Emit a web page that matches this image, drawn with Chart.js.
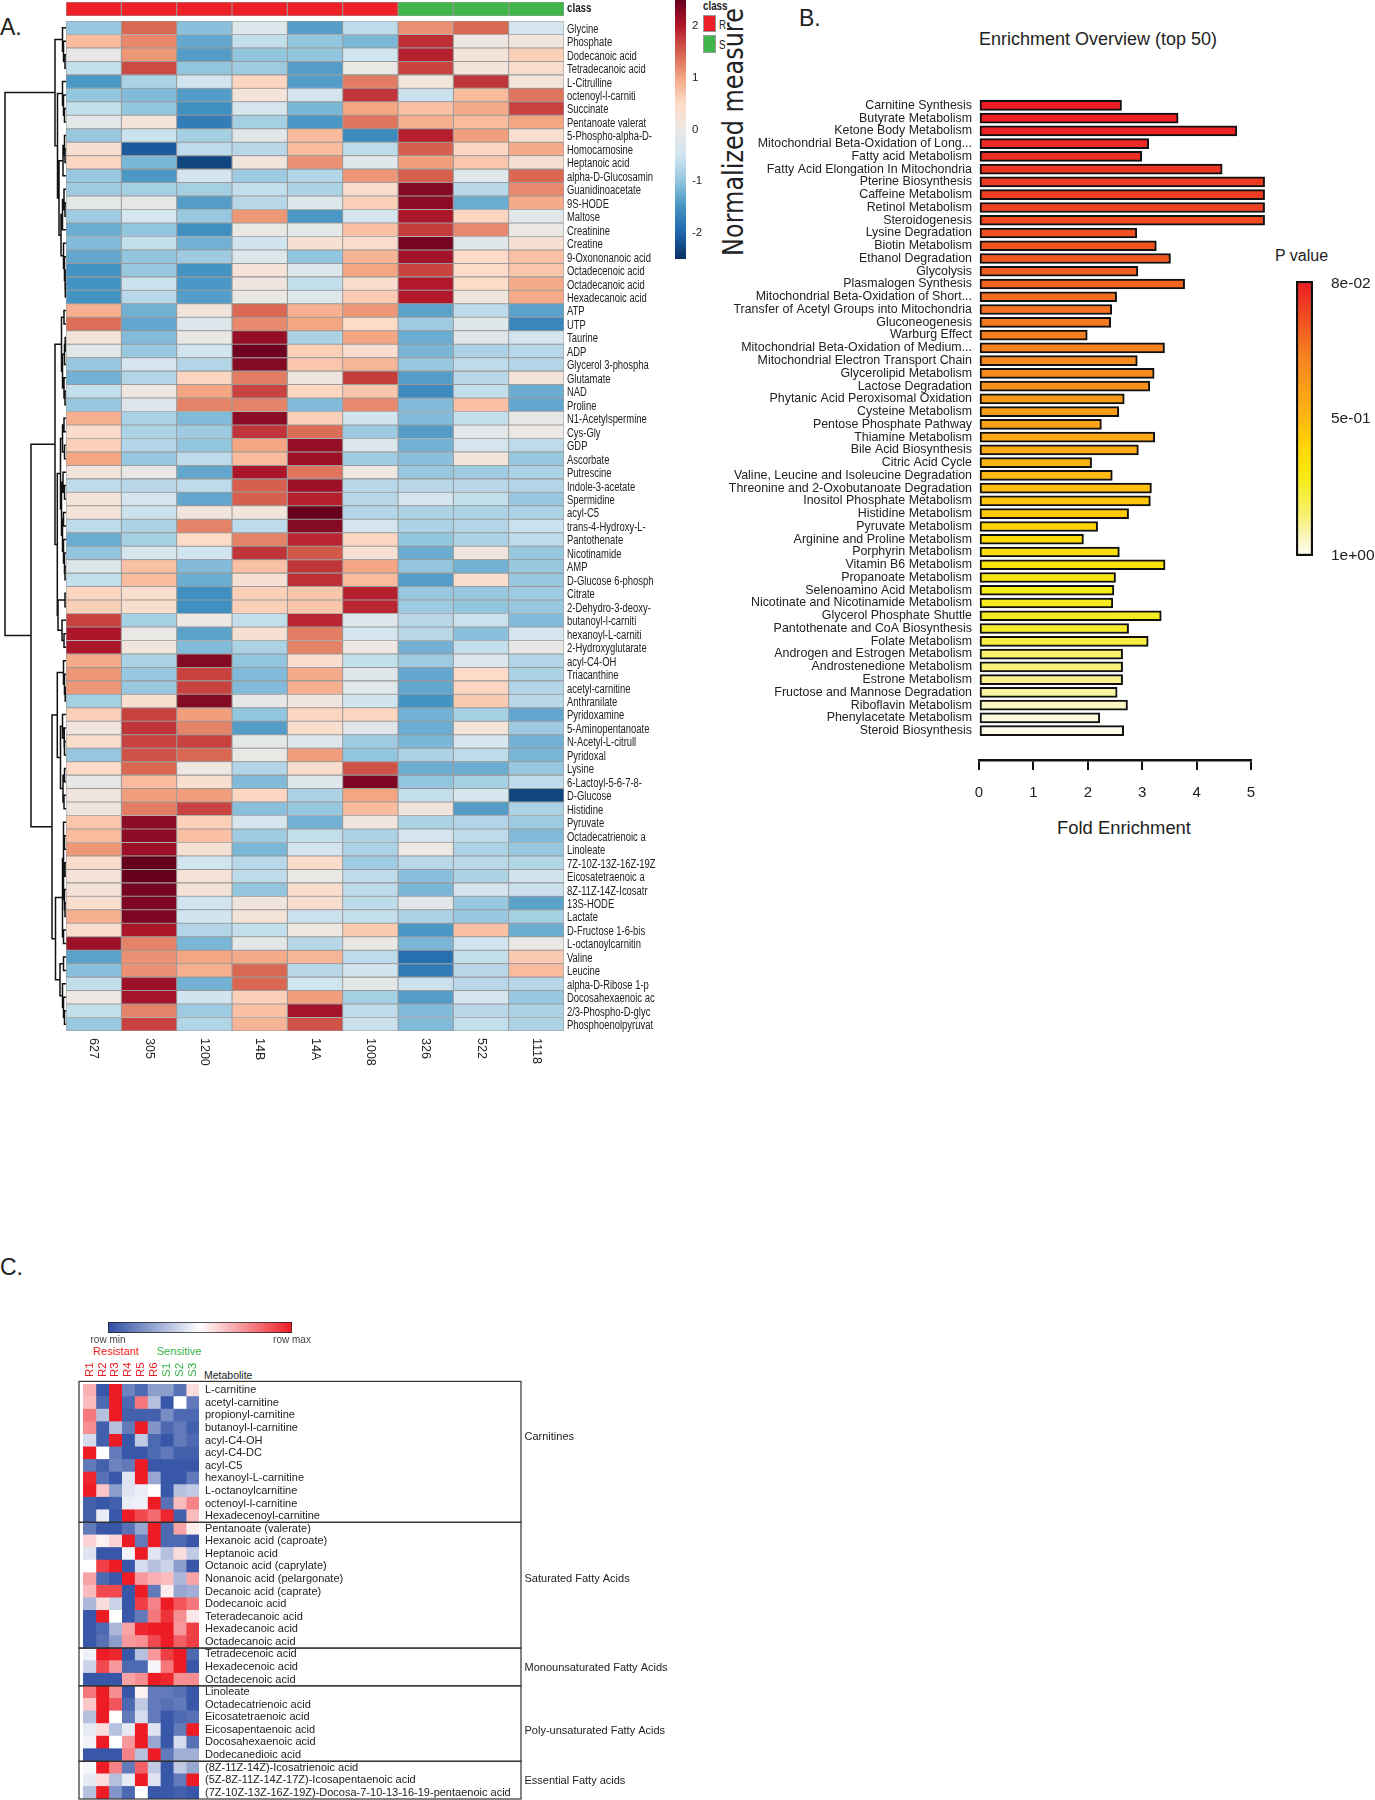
<!DOCTYPE html>
<html lang="en">
<head>
<meta charset="UTF-8">
<title>Metabolomics heatmaps and enrichment overview</title>
<script src="https://cdn.jsdelivr.net/npm/chart.js"></script>
<style>
    body { margin: 0; background: #fff; width: 1375px; height: 1800px; position: relative; overflow: hidden; font-family: "Liberation Sans", Arial, sans-serif; color: #222; }
    canvas { position: absolute; }
    .txt { position: absolute; white-space: nowrap; line-height: 1; transform: translate(0, -50%); }
    .mid { transform: translate(-50%, -50%); }
    .narrow { transform: translate(0, -50%) scaleX(0.78); transform-origin: left center; }
    .swatch { position: absolute; left: 703px; width: 11px; border: 1.5px solid #999; }
</style>
</head>
<body>
<div class="txt" style="left:0;top:27px;font-size:23px">A.</div>
<div class="txt" style="left:799px;top:18px;font-size:23px">B.</div>
<div class="txt" style="left:0;top:1267px;font-size:23px">C.</div>

<div class="txt narrow" style="left:703px;top:6px;font-size:12.5px;font-weight:bold">class</div>
<div class="swatch" style="top:15px;height:15px;background:#ee1f26"></div>
<div class="swatch" style="top:35px;height:16px;background:#3fb54a"></div>
<div class="txt narrow" style="left:719px;top:25px;font-size:12.5px">R</div>
<div class="txt narrow" style="left:719px;top:45px;font-size:12.5px">S</div>
<div class="txt mid" style="left:734px;top:132px;font-size:28px;font-family:'DejaVu Sans';transform:translate(-50%,-50%) rotate(-90deg) scaleX(0.855)">Normalized measure</div>

<div class="txt mid" style="left:1098px;top:39px;font-size:18px">Enrichment Overview (top 50)</div>
<div class="txt mid" style="left:1124px;top:828px;font-size:18.4px">Fold Enrichment</div>
<div class="txt" style="left:1275px;top:256px;font-size:16px">P value</div>

<div class="txt mid" style="left:116px;top:1351px;font-size:11px;color:#ed1c24">Resistant</div>
<div class="txt mid" style="left:179px;top:1351px;font-size:11px;color:#39b54a">Sensitive</div>
<div class="txt" style="left:204px;top:1375px;font-size:10.5px">Metabolite</div>

<canvas id="classStrip" width="700" height="20" style="left:64px;top:0"></canvas>
<canvas id="dendro" width="66" height="1010" style="left:0;top:21px"></canvas>
<canvas id="heatA" width="700" height="1080" style="left:64px;top:19px"></canvas>
<canvas id="heatLegend" width="40" height="259" style="left:670px;top:0"></canvas>
<canvas id="enrich" width="560" height="755" style="left:720px;top:90px"></canvas>
<canvas id="pLegend" width="81" height="290" style="left:1294px;top:275px"></canvas>
<canvas id="rowLegend" width="240" height="32" style="left:80px;top:1316px"></canvas>
<canvas id="heatC" width="610" height="445" style="left:70px;top:1355px"></canvas>

<script>
// Panel A: samples, class of each sample, metabolites and normalized values
const samples = ['627', '305', '1200', '14B', '14A', '1008', '326', '522', '1118'];
const sampleClass = ['R', 'R', 'R', 'R', 'R', 'R', 'S', 'S', 'S'];
const metabolites = ['Glycine', 'Phosphate', 'Dodecanoic acid', 'Tetradecanoic acid', 'L-Citrulline', 'octenoyl-l-carniti', 'Succinate', 'Pentanoate valerat', '5-Phospho-alpha-D-', 'Homocarnosine', 'Heptanoic acid', 'alpha-D-Glucosamin', 'Guanidinoacetate', '9S-HODE', 'Maltose', 'Creatinine', 'Creatine', '9-Oxononanoic acid', 'Octadecenoic acid', 'Octadecanoic acid', 'Hexadecanoic acid', 'ATP', 'UTP', 'Taurine', 'ADP', 'Glycerol 3-phospha', 'Glutamate', 'NAD', 'Proline', 'N1-Acetylspermine', 'Cys-Gly', 'GDP', 'Ascorbate', 'Putrescine', 'Indole-3-acetate', 'Spermidine', 'acyl-C5', 'trans-4-Hydroxy-L-', 'Pantothenate', 'Nicotinamide', 'AMP', 'D-Glucose 6-phosph', 'Citrate', '2-Dehydro-3-deoxy-', 'butanoyl-l-carniti', 'hexanoyl-L-carniti', '2-Hydroxyglutarate', 'acyl-C4-OH', 'Triacanthine', 'acetyl-carnitine', 'Anthranilate', 'Pyridoxamine', '5-Aminopentanoate', 'N-Acetyl-L-citrull', 'Pyridoxal', 'Lysine', '6-Lactoyl-5-6-7-8-', 'D-Glucose', 'Histidine', 'Pyruvate', 'Octadecatrienoic a', 'Linoleate', '7Z-10Z-13Z-16Z-19Z', 'Eicosatetraenoic a', '8Z-11Z-14Z-Icosatr', '13S-HODE', 'Lactate', 'D-Fructose 1-6-bis', 'L-octanoylcarnitin', 'Valine', 'Leucine', 'alpha-D-Ribose 1-p', 'Docosahexaenoic ac', '2/3-Phospho-D-glyc', 'Phosphoenolpyruvat'];
const heatValues = [
    [-0.95, 1.45, -1.05, -0.3, -1.4, -0.65, 1.15, 1.45, -0.45],
    [0.8, 1.2, -1.3, -0.6, -1.0, -1.15, 1.85, 0.05, 0.15],
    [-0.1, 1.1, -1.4, -1.0, -1.0, -0.5, 1.95, 0.2, 0.6],
    [-0.6, 1.65, -1.0, -0.9, -1.4, -0.05, 1.7, 0.2, 0.4],
    [-1.45, -0.8, -0.5, 0.55, -1.4, 1.3, 0.15, 1.8, 0.2],
    [-1.0, -1.1, -1.4, 0.2, -0.45, 1.8, -0.55, 0.8, 1.35],
    [-0.6, -1.0, -1.55, -0.4, -1.15, 1.0, 0.75, 0.95, 1.7],
    [-0.15, 0.2, -1.75, -0.85, -1.45, 1.35, 0.9, 0.8, 1.0],
    [-0.95, -0.55, -0.85, -0.2, 0.8, -1.6, 1.95, 1.05, 0.35],
    [0.3, -2.1, -0.65, -0.7, 0.8, -0.65, 1.5, 0.55, 0.95],
    [0.55, -1.15, -2.3, 0.15, 1.15, -0.25, 1.05, 0.7, 0.3],
    [-0.95, -1.45, -0.45, -0.9, -0.75, 1.1, 1.5, -0.25, 1.45],
    [-0.9, -0.85, -0.85, -0.6, -0.8, 0.4, 2.3, -0.7, 1.2],
    [-0.15, -0.1, -1.4, -0.7, -0.3, 0.6, 2.25, -1.25, 0.95],
    [-0.9, -0.4, -0.95, 1.1, -1.45, -0.45, 2.05, 0.55, -0.2],
    [-1.25, -1.0, -1.55, -0.05, -0.15, 0.75, 1.75, 1.2, 0.0],
    [-1.1, -0.6, -1.2, -0.5, 0.3, 0.45, 2.4, -0.25, 0.3],
    [-1.3, -1.0, -0.9, -0.3, -1.0, 0.85, 2.1, 0.5, 0.75],
    [-1.5, -0.95, -1.5, 0.25, -0.3, 1.0, 1.7, 0.5, 0.7],
    [-1.5, -0.55, -1.45, 0.1, -0.6, 0.4, 2.0, 0.5, 0.95],
    [-1.5, -0.7, -1.4, -0.05, -0.3, 0.65, 2.0, 0.15, 0.95],
    [0.9, -1.2, 0.15, 1.45, 0.9, 1.1, -1.35, -0.65, -1.35],
    [1.4, -1.3, -0.3, 1.2, 1.0, 0.5, -0.9, -0.25, -1.65],
    [0.2, -1.1, -0.05, 2.2, -0.8, 1.0, -1.25, -0.25, -0.45],
    [-0.2, -0.95, -0.5, 2.45, 0.6, 0.4, -1.15, -0.8, -0.7],
    [-0.95, -0.45, -0.75, 2.3, 0.7, 0.85, -0.95, -0.65, -0.75],
    [-1.2, -0.75, 0.55, 1.3, 0.1, 1.75, -1.4, -0.7, 0.2],
    [-0.6, 0.05, 1.0, 1.7, 0.55, 0.7, -1.6, -0.6, -1.25],
    [-0.95, -0.3, 1.25, 1.25, -1.1, 1.2, -1.1, 0.75, -1.3],
    [0.9, -0.8, -1.1, 2.25, 0.6, -0.5, -1.1, -0.6, -0.1],
    [0.45, -0.8, -0.9, 1.8, 1.4, -0.9, -1.4, -0.15, 0.0],
    [0.6, -0.75, -1.0, 1.0, 2.2, -0.3, -1.2, -0.45, -0.65],
    [1.0, -0.95, -0.65, 0.8, 2.15, -0.9, -1.05, 0.15, -0.95],
    [0.15, -0.1, -1.3, 2.05, 1.35, 0.05, -0.95, -0.9, -0.8],
    [-0.65, -0.7, -0.65, 1.5, 2.15, -0.7, -0.7, -0.7, -0.75],
    [0.2, -0.45, -1.3, 1.5, 1.95, -0.7, -0.45, -0.6, -0.95],
    [0.2, -0.55, 0.1, 0.15, 2.55, -0.75, -0.8, -0.8, -0.8],
    [-0.65, -0.8, 1.25, -0.65, 2.3, -0.45, -0.8, -0.75, -0.55],
    [-1.25, -0.85, 0.5, 1.25, 1.9, 0.55, -1.0, -0.8, -0.65],
    [-1.0, -0.4, -0.5, 1.8, 1.55, 0.3, -1.25, 0.1, -0.95],
    [-0.3, 0.75, -1.1, 0.75, 1.8, 1.0, -1.0, -1.2, -0.95],
    [-0.6, 0.8, -1.25, 0.3, 1.85, 0.8, -1.4, 0.4, -0.95],
    [0.55, 0.4, -1.55, 0.6, 0.7, 1.95, -0.95, -0.95, -0.9],
    [0.6, 0.4, -1.55, 0.6, 0.7, 1.9, -0.9, -1.0, -0.95],
    [1.7, -0.85, 0.0, -0.6, 1.9, -0.3, -0.7, -0.55, -1.1],
    [2.05, -0.05, -1.35, 0.3, 1.3, -0.4, -0.7, -1.05, -0.45],
    [2.05, 0.15, -1.1, -0.8, 1.25, 0.05, -1.2, -0.6, -0.1],
    [0.95, -0.8, 2.3, -1.0, 0.4, -0.6, -0.9, -0.3, -0.75],
    [1.1, -0.95, 1.7, -1.1, 0.95, -0.25, -1.3, 0.5, -0.8],
    [1.1, -0.95, 1.7, -1.1, 0.9, -0.25, -1.3, 0.55, -0.75],
    [-0.85, 0.35, 2.3, -0.1, 0.1, -0.5, -1.5, 0.65, -0.7],
    [0.6, 1.7, 1.05, -1.0, 0.55, 0.55, -1.2, -0.85, -1.3],
    [0.1, 1.8, 1.25, -1.4, 0.4, -0.25, -1.25, 0.2, -0.9],
    [0.45, 1.7, 1.7, -0.15, -0.3, -0.9, -1.15, -0.4, -1.2],
    [-0.95, 1.6, 1.45, -0.05, 1.05, -1.0, -0.8, -0.65, -1.15],
    [0.5, 1.45, 0.05, -0.75, 0.4, 1.6, -1.25, -1.25, -0.95],
    [-0.1, 0.8, 0.35, -1.1, -0.25, 2.35, -1.0, -0.85, -0.65],
    [0.1, 1.05, 1.05, 0.55, -0.8, 1.0, -0.6, -0.4, -2.3],
    [0.1, 1.3, 1.7, -1.05, -0.95, 0.8, 0.15, -1.4, -0.8],
    [0.7, 2.25, 0.6, -0.4, -1.2, 0.1, -0.8, -0.75, -0.9],
    [0.8, 2.25, 0.75, -0.9, -0.6, -0.8, -0.45, -0.65, -1.1],
    [1.1, 2.15, 0.3, -1.15, -0.45, -0.8, 0.0, -0.8, -0.95],
    [0.45, 2.5, -0.5, -0.7, 0.45, -0.9, -0.7, -0.7, -0.75],
    [0.25, 2.55, 0.25, -0.65, -0.05, -0.65, -1.05, -0.8, -0.5],
    [0.25, 2.4, 0.25, -1.0, 0.4, -0.65, -1.15, -0.45, -0.55],
    [0.4, 2.35, -0.5, 0.15, 0.4, -0.65, -0.2, -0.95, -1.35],
    [0.9, 2.35, -0.5, 0.2, -0.55, -0.6, -0.8, -0.95, -0.85],
    [0.4, 2.05, -0.75, -0.6, 0.05, 0.65, -1.45, 0.75, -1.25],
    [2.15, 1.25, -1.15, -0.15, -0.7, -0.05, -1.15, -0.5, -0.05],
    [-1.35, 1.15, 1.0, 0.95, 0.85, -0.65, -1.9, -0.6, 0.65],
    [-1.05, 1.15, 0.9, 1.45, -0.7, -0.5, -1.75, -0.7, 0.8],
    [-0.6, 2.15, -1.2, 1.45, -0.5, -0.15, -0.55, -0.7, -0.7],
    [0.0, 2.1, -0.5, 0.6, 1.05, -0.85, -1.4, -0.45, -0.95],
    [-0.6, 1.25, -0.9, 0.75, 2.1, -0.65, -1.1, -0.7, -0.8],
    [-0.95, 1.7, -0.75, 0.85, 1.6, -0.55, -1.1, -0.6, -0.8]
];

// Row dendrogram of panel A: [distance, child, child], a plain number is a row index
const treeA = [11, [3.5, 0, [2.5, 1, [1, 2, 3]]],
    [8.5, [3.5, 4, [2.5, 5, [1.5, 6, 7]]],
        [7, [3, [1.5, 8, [1, 9, 10]], 11],
            [5, [3.5, [2, 12, [1, 13, 14]], 15], [2.5, 16, [1.5, 17, [1, 18, [0.7, 19, 20]]]]]]]];
const treeB = [4.5, [2, 21, 22], [3.5, [1.5, [0.8, 23, 24], 25], [2, 26, [1, 27, 28]]]];
const treeC = [5.5, [3.5, [2, 29, 30], [1.5, 31, 32]],
    [4.5, [3, 33, [1.5, 34, 35]], [3.5, [2.5, 36, 37], [2.5, 38, [1.5, 39, [1, 40, 41]]]]]];
const treeD = [8, [1, 42, 43], [4, 44, [2, 45, 46]]];
const treeE = [8.7, [2.5, 47, [1.5, 48, [0.8, 49, 50]]],
    [5.5, [3.5, 51, [2, 52, [1.5, 53, 54]]], [3, [1.5, 55, 56], [2, 57, 58]]]];
const treeF = [10.5, [3.5, [2.5, [2.5, 59, [1.5, 60, 61]], [2.5, [1, 62, 63], [1.5, 64, [1, 65, 66]]]], [2.5, 67, 68]],
    [6, [2.5, 69, 70], [3.5, 71, [2.5, 72, [1.5, 73, 74]]]]];
const dendroRoot = [61, treeA, [35, [11, treeB, [8.7, treeC, treeD]], [14, treeE, treeF]]];

// Panel B: pathways, fold enrichment and P value
const pathways = ['Carnitine Synthesis', 'Butyrate Metabolism', 'Ketone Body Metabolism', 'Mitochondrial Beta-Oxidation of Long...', 'Fatty acid Metabolism', 'Fatty Acid Elongation In Mitochondria', 'Pterine Biosynthesis', 'Caffeine Metabolism', 'Retinol Metabolism', 'Steroidogenesis', 'Lysine Degradation', 'Biotin Metabolism', 'Ethanol Degradation', 'Glycolysis', 'Plasmalogen Synthesis', 'Mitochondrial Beta-Oxidation of Short...', 'Transfer of Acetyl Groups into Mitochondria', 'Gluconeogenesis', 'Warburg Effect', 'Mitochondrial Beta-Oxidation of Medium...', 'Mitochondrial Electron Transport Chain', 'Glycerolipid Metabolism', 'Lactose Degradation', 'Phytanic Acid Peroxisomal Oxidation', 'Cysteine Metabolism', 'Pentose Phosphate Pathway', 'Thiamine Metabolism', 'Bile Acid Biosynthesis', 'Citric Acid Cycle', 'Valine, Leucine and Isoleucine Degradation', 'Threonine and 2-Oxobutanoate Degradation', 'Inositol Phosphate Metabolism', 'Histidine Metabolism', 'Pyruvate Metabolism', 'Arginine and Proline Metabolism', 'Porphyrin Metabolism', 'Vitamin B6 Metabolism', 'Propanoate Metabolism', 'Selenoamino Acid Metabolism', 'Nicotinate and Nicotinamide Metabolism', 'Glycerol Phosphate Shuttle', 'Pantothenate and CoA Biosynthesis', 'Folate Metabolism', 'Androgen and Estrogen Metabolism', 'Androstenedione Metabolism', 'Estrone Metabolism', 'Fructose and Mannose Degradation', 'Riboflavin Metabolism', 'Phenylacetate Metabolism', 'Steroid Biosynthesis'];
const foldEnrichment = [2.62, 3.66, 4.74, 3.12, 2.99, 4.47, 5.25, 5.25, 5.25, 5.25, 2.90, 3.26, 3.52, 2.92, 3.78, 2.53, 2.44, 2.42, 1.99, 3.41, 2.91, 3.22, 3.14, 2.67, 2.57, 2.25, 3.23, 2.93, 2.07, 2.45, 3.17, 3.15, 2.75, 2.18, 1.92, 2.58, 3.42, 2.51, 2.48, 2.46, 3.35, 2.75, 3.11, 2.64, 2.64, 2.64, 2.54, 2.73, 2.22, 2.66];
const pValues = [0.08, 0.09, 0.10, 0.11, 0.12, 0.14, 0.15, 0.16, 0.17, 0.19, 0.21, 0.22, 0.23, 0.24, 0.26, 0.28, 0.29, 0.31, 0.32, 0.33, 0.36, 0.37, 0.39, 0.42, 0.44, 0.46, 0.48, 0.49, 0.52, 0.54, 0.56, 0.58, 0.60, 0.63, 0.66, 0.68, 0.70, 0.72, 0.735, 0.745, 0.755, 0.77, 0.80, 0.86, 0.87, 0.89, 0.91, 0.94, 0.97, 0.99];
const foldTicks = [0, 1, 2, 3, 4, 5];
const pTicks = [0.09, 0.54, 1];
const pTickLabels = ['8e-02', '5e-01', '1e+00'];

// Panel C: columns, metabolite groups and row-scaled values (-1 row min, 1 row max)
const columnsC = ['R1', 'R2', 'R3', 'R4', 'R5', 'R6', 'S1', 'S2', 'S3'];
const metabolitesC = ['L-carnitine', 'acetyl-carnitine', 'propionyl-carnitine', 'butanoyl-l-carnitine', 'acyl-C4-OH', 'acyl-C4-DC', 'acyl-C5', 'hexanoyl-L-carnitine', 'L-octanoylcarnitine', 'octenoyl-l-carnitine', 'Hexadecenoyl-carnitine', 'Pentanoate (valerate)', 'Hexanoic acid (caproate)', 'Heptanoic acid', 'Octanoic acid (caprylate)', 'Nonanoic acid (pelargonate)', 'Decanoic acid (caprate)', 'Dodecanoic acid', 'Teteradecanoic acid', 'Hexadecanoic acid', 'Octadecanoic acid', 'Tetradecenoic acid', 'Hexadecenoic acid', 'Octadecenoic acid', 'Linoleate', 'Octadecatrienoic acid', 'Eicosatetraenoic acid', 'Eicosapentaenoic acid', 'Docosahexaenoic acid', 'Dodecanedioic acid', '(8Z-11Z-14Z)-Icosatrienoic acid', '(5Z-8Z-11Z-14Z-17Z)-Icosapentaenoic acid', '(7Z-10Z-13Z-16Z-19Z)-Docosa-7-10-13-16-19-pentaenoic acid'];
const groupNames = ['Carnitines', 'Saturated Fatty Acids', 'Monounsaturated Fatty Acids', 'Poly-unsaturated Fatty Acids', 'Essential Fatty acids'];
const groupSizes = [11, 10, 3, 6, 3];
const groupNameRows = [3.7, 15, 22.1, 27.1, 31.05];
const valuesC = [
    [0.35, -0.95, 1, -0.7, -0.85, -0.55, -0.55, -0.8, 0.15],
    [0.3, -0.85, 1, -0.85, 0.6, -0.35, -0.95, 0, -0.75],
    [0.6, -0.35, 1, -0.9, -0.9, -0.9, -0.65, -0.85, -0.85],
    [0.5, -0.9, -0.35, -0.75, 1, -0.6, -0.85, -0.75, -0.9],
    [-0.2, -0.9, 1, -0.95, -0.3, -0.85, -0.95, -0.75, -0.85],
    [1, 0, -0.75, -0.95, -0.95, -0.85, -0.75, -0.9, -0.9],
    [-0.75, -0.9, -0.7, -0.75, 1, -0.95, -0.95, -0.95, -0.95],
    [0.95, -0.8, -0.95, -0.15, 1, -0.5, -0.95, -0.95, -0.75],
    [1, 0.25, -0.55, -0.15, -0.1, 0, -0.95, -0.35, -0.3],
    [-0.9, -0.95, -0.9, -0.1, -0.08, 1, -0.8, 0.3, 0.55],
    [-0.9, -0.1, -0.95, 1, 0.8, 0.65, 0.95, -0.9, 0.3],
    [-0.75, -0.95, -0.95, -0.8, -0.5, 1, -0.85, 0.4, 0.08],
    [0.2, 0.06, 0.2, 1, -0.75, 1, -0.85, -0.85, -0.95],
    [-0.15, -0.95, -0.95, -0.06, 1, -0.15, -0.35, 0.15, -0.3],
    [0, 0.85, 1, -0.95, -0.2, -0.35, -0.25, -0.55, -0.95],
    [0.4, -0.85, -0.95, 1, 0.45, 0.35, 0.3, -0.4, 0.4],
    [0.3, 0.8, 0.8, -0.95, 1, -0.75, 0.08, -0.5, -0.45],
    [-0.4, 0.15, -0.25, -0.95, 0.85, 0.55, 1, 0.75, 0.6],
    [-0.95, 1, 0, -0.95, -0.75, 0.6, 0.9, 0.5, 0.1],
    [-0.95, -0.85, -0.4, 0.4, 0.95, 1, 1, 0.45, 0.85],
    [-0.95, -0.8, -0.55, 0.45, 0.5, 0.8, 1, 0.7, 0.85],
    [-0.08, 1, 0.95, -0.95, -0.35, 0.45, 0.85, 1, -0.85],
    [-0.25, 0.8, 0.45, -0.85, -0.85, -0.05, 0.6, 1, -0.95],
    [-0.95, -0.95, -0.95, 0.4, 0.5, 1, 0.95, 0.5, 0.5],
    [0.6, 1, 0.5, -0.95, 0.06, -0.75, -0.75, -0.8, -0.95],
    [0.25, 1, 0.75, -0.85, -0.3, -0.75, -0.8, -0.75, -0.95],
    [-0.35, 1, 0, -0.75, -0.2, -0.75, -0.95, -0.85, -0.8],
    [-0.12, 0.15, -0.35, -0.12, 1, -0.15, -0.95, -0.75, 1],
    [-0.06, 1, 0, 0.45, 1, -0.5, -0.95, -0.2, -0.8],
    [-0.95, -0.95, -0.95, 0.55, -0.35, 1, -0.75, -0.45, -0.45],
    [-0.05, 1, 0.55, -0.75, 0.7, -0.3, -0.95, -0.3, -0.5],
    [-0.12, 0.15, -0.35, -0.12, 1, -0.15, -0.95, -0.75, 1],
    [-0.35, 1, -0.6, -0.85, 0, -0.95, -0.95, -0.9, -0.95]
];

Chart.defaults.animation = false;
Chart.defaults.responsive = false;
Chart.defaults.font.family = '"Liberation Sans", Arial, sans-serif';
Chart.defaults.color = '#222';
Chart.defaults.plugins.legend.display = false;
Chart.defaults.plugins.tooltip.enabled = false;

// Colour scales: list of [value, '#hex'] pairs, linear between them
const rdbuStops = [[-2.5, '#053061'], [-2, '#2166ac'], [-1.5, '#4393c3'], [-1, '#92c5de'], [-0.5, '#d1e5f0'], [0, '#ece8e4'], [0.5, '#fddbc7'], [1, '#f4a582'], [1.5, '#d6604d'], [2, '#b2182b'], [2.5, '#67001f']];
const pStops = [[0.08, '#ed1c24'], [0.33, '#f58220'], [0.54, '#fdb813'], [0.63, '#ffd500'], [0.735, '#f5ea14'], [0.86, '#f7f06e'], [0.94, '#fbf7c0'], [1, '#fffef5']];
const rowStops = [[-1, '#2e4ea3'], [0, '#ffffff'], [1, '#ed1c24']];

function hexToRgb(h) {
    return [1, 3, 5].map(i => parseInt(h.substr(i, 2), 16));
}
function colorAt(stops, v) {
    if (v <= stops[0][0]) return stops[0][1];
    for (let i = 1; i < stops.length; i++) {
        if (v <= stops[i][0]) {
            const t = (v - stops[i - 1][0]) / (stops[i][0] - stops[i - 1][0]);
            const a = hexToRgb(stops[i - 1][1]), b = hexToRgb(stops[i][1]);
            return `rgb(${a.map((c, k) => Math.round(c + (b[k] - c) * t)).join(',')})`;
        }
    }
    return stops[stops.length - 1][1];
}
// Fill for the colour bars, runs along the chart area
function gradientFill(stops, vertical, lo, hi) {
    return ctx => {
        const area = ctx.chart.chartArea;
        if (!area) return '#ccc';
        const c = ctx.chart.ctx;
        const g = vertical ? c.createLinearGradient(0, area.top, 0, area.bottom) : c.createLinearGradient(area.left, 0, area.right, 0);
        stops.forEach(s => g.addColorStop((s[0] - lo) / (hi - lo), s[1]));
        return g;
    };
}

// Tick labels would otherwise push the chart area in by half a line
function fixWidth(w) {
    return s => { s.width = w; s.paddingTop = 0; s.paddingBottom = 0; };
}

// One floating bar dataset per column, so the heatmap is drawn on real scales
function cellDatasets(cols, rowsValues, stops, extra) {
    return cols.map((name, j) => Object.assign({
        label: name,
        data: rowsValues.map(() => [j, j + 1]),
        backgroundColor: rowsValues.map(r => colorAt(stops, r[j])),
        barPercentage: 1,
        categoryPercentage: 1,
        grouped: false,
        borderSkipped: false
    }, extra));
}

// Column names are placed at the x scale positions of the columns
const columnNames = {
    id: 'columnNames',
    afterDraw(chart, args, o) {
        const c = chart.ctx, x = chart.scales.x;
        c.save();
        c.font = o.font;
        c.textAlign = o.align;
        c.textBaseline = 'middle';
        o.names.forEach((name, j) => {
            c.save();
            c.translate(x.getPixelForValue(j + 0.5), chart.chartArea[o.edge] + o.offset);
            c.rotate(o.angle);
            c.fillStyle = o.colors ? o.colors[j] : '#222';
            c.fillText(name, 0, 0);
            c.restore();
        });
        c.restore();
    }
};

// The row labels of panel A are squeezed sideways, no narrow font is installed
const squeezedLabels = {
    id: 'squeezedLabels',
    afterDraw(chart, args, o) {
        const c = chart.ctx, y = chart.scales.y;
        c.save();
        c.font = o.font;
        c.textBaseline = 'middle';
        c.fillStyle = '#222';
        y.ticks.forEach((t, i) => {
            c.save();
            c.translate(chart.chartArea.right + o.gap, y.getPixelForTick(i) + o.drop);
            c.scale(o.squeeze, 1);
            c.fillText(y.getLabelForValue(t.value), 0, 0);
            c.restore();
        });
        c.restore();
    }
};

// Panel A heatmap
new Chart(document.getElementById('heatA'), {
    type: 'bar',
    plugins: [columnNames, squeezedLabels],
    data: {
        labels: metabolites,
        datasets: cellDatasets(samples, heatValues, rdbuStops, { borderColor: '#9a9a9a', borderWidth: 0.85 })
    },
    options: {
        indexAxis: 'y',
        layout: { padding: { left: 2, top: 2, bottom: 68 } },
        scales: {
            x: { type: 'linear', min: 0, max: 9, display: false },
            y: {
                position: 'right',
                afterFit: fixWidth(200),
                grid: { display: false, drawTicks: false },
                border: { display: false },
                ticks: { autoSkip: false, display: false }
            }
        },
        plugins: {
            columnNames: { names: samples, edge: 'bottom', offset: 7, angle: Math.PI / 2, align: 'left', font: '12.5px "Liberation Sans"' },
            squeezedLabels: { font: '12.5px "Liberation Sans"', gap: 3, squeeze: 0.755, drop: 1.5 }
        }
    }
});

// Class strip above the heatmap
new Chart(document.getElementById('classStrip'), {
    type: 'bar',
    plugins: [squeezedLabels],
    data: {
        labels: ['class'],
        datasets: samples.map((name, j) => ({
            label: name,
            data: [[j, j + 1]],
            backgroundColor: sampleClass[j] === 'R' ? '#ee1f26' : '#3fb54a',
            borderColor: '#9a9a9a',
            borderWidth: 0.85,
            borderSkipped: false,
            barPercentage: 1,
            categoryPercentage: 1,
            grouped: false
        }))
    },
    options: {
        indexAxis: 'y',
        layout: { padding: { left: 2, top: 2, bottom: 4 } },
        scales: {
            x: { type: 'linear', min: 0, max: 9, display: false },
            y: {
                position: 'right',
                afterFit: fixWidth(200),
                grid: { display: false, drawTicks: false },
                border: { display: false },
                ticks: { display: false }
            }
        },
        plugins: {
            squeezedLabels: { font: 'bold 12.5px "Liberation Sans"', gap: 3, squeeze: 0.78, drop: 0 }
        }
    }
});

// Dendrogram on the left, same row positions as the heatmap
function treeSegments(node, out) {
    if (typeof node === 'number') return { d: 0, y: node };
    const a = treeSegments(node[1], out), b = treeSegments(node[2], out);
    out.push({ x: a.d, y: a.y }, { x: node[0], y: a.y }, { x: node[0], y: b.y }, { x: b.d, y: b.y }, { x: NaN, y: NaN });
    return { d: node[0], y: (a.y + b.y) / 2 };
}
const dendroPoints = [];
treeSegments(dendroRoot, dendroPoints);
new Chart(document.getElementById('dendro'), {
    type: 'scatter',
    data: { datasets: [{ data: dendroPoints, showLine: true, spanGaps: false, pointRadius: 0, borderColor: '#111', borderWidth: 1.5, clip: false }] },
    options: {
        scales: {
            x: { type: 'linear', min: 0, max: 66, reverse: true, display: false },
            y: { type: 'linear', min: -0.5, max: 74.5, reverse: true, display: false }
        }
    }
});

// Colour bar of panel A
new Chart(document.getElementById('heatLegend'), {
    type: 'bar',
    data: { labels: ['value'], datasets: [{ data: [[-2.5, 2.5]], backgroundColor: gradientFill(rdbuStops, true, 2.5, -2.5), barPercentage: 1, categoryPercentage: 1 }] },
    options: {
        layout: { padding: { left: 5 } },
        scales: {
            x: { display: false },
            y: {
                position: 'right',
                min: -2.5,
                max: 2.5,
                afterFit: fixWidth(24),
                afterBuildTicks: s => { s.ticks = [2, 1, 0, -1, -2].map(v => ({ value: v })); },
                grid: { display: false, drawTicks: false },
                border: { display: false },
                ticks: { padding: 6, font: { size: 11.5 }, callback: v => String(v) }
            }
        }
    }
});

// Panel B bars. The x axis sits a little below the last bar
const dropAxis = {
    id: 'dropAxis',
    afterLayout(chart) {
        chart.scales.x.top += 23;
        chart.scales.x.bottom += 23;
    }
};
new Chart(document.getElementById('enrich'), {
    type: 'bar',
    plugins: [dropAxis],
    data: {
        labels: pathways,
        datasets: [{
            label: 'Fold Enrichment',
            data: foldEnrichment,
            backgroundColor: pValues.map(p => colorAt(pStops, p)),
            borderColor: '#111',
            borderWidth: 2,
            borderSkipped: false,
            barThickness: 10,
            clip: false
        }]
    },
    options: {
        indexAxis: 'y',
        layout: { padding: { top: 9, right: 29, bottom: 28 } },
        scales: {
            x: {
                type: 'linear',
                min: 0,
                max: 5,
                afterFit: s => { s.height = 80; },
                afterBuildTicks: s => { s.ticks = foldTicks.map(v => ({ value: v })); },
                grid: { drawOnChartArea: false, color: '#111', lineWidth: 2, tickLength: 10 },
                border: { color: '#111', width: 2.5 },
                ticks: { padding: 14, font: { size: 15 } }
            },
            y: {
                afterFit: fixWidth(259),
                grid: { display: false, drawTicks: false },
                border: { display: false },
                ticks: { autoSkip: false, padding: 7, font: { size: 12.4 } }
            }
        }
    }
});

// P value colour bar
new Chart(document.getElementById('pLegend'), {
    type: 'bar',
    data: {
        labels: ['P value'],
        datasets: [{ data: [[0.08, 1]], backgroundColor: gradientFill(pStops, true, 0.08, 1), borderColor: '#111', borderWidth: 2.5, borderSkipped: false, barPercentage: 1, categoryPercentage: 1 }]
    },
    options: {
        layout: { padding: { left: 2, top: 6, bottom: 9 } },
        scales: {
            x: { display: false },
            y: {
                position: 'right',
                reverse: true,
                min: 0.08,
                max: 1,
                afterFit: fixWidth(62),
                afterBuildTicks: s => { s.ticks = pTicks.map(v => ({ value: v })); },
                grid: { display: false, drawTicks: false },
                border: { display: false },
                ticks: { padding: 18, font: { size: 15.5 }, callback: (v, i) => pTickLabels[i] }
            }
        }
    }
});

// Panel C row min / row max bar
new Chart(document.getElementById('rowLegend'), {
    type: 'bar',
    data: {
        labels: ['row'],
        datasets: [{ data: [[-1, 1]], backgroundColor: gradientFill(rowStops, false, -1, 1), borderColor: '#222', borderWidth: 1, borderSkipped: false, barPercentage: 1, categoryPercentage: 1 }]
    },
    options: {
        indexAxis: 'y',
        layout: { padding: { left: 28, right: 28, top: 6 } },
        scales: {
            x: {
                type: 'linear',
                min: -1,
                max: 1,
                afterFit: s => { s.height = 15; },
                afterBuildTicks: s => { s.ticks = [-1, 1].map(v => ({ value: v })); },
                grid: { display: false, drawTicks: false },
                border: { display: false },
                ticks: { padding: 1, font: { size: 10 }, color: '#444', callback: v => (v < 0 ? 'row min' : 'row max') }
            },
            y: { display: false }
        }
    }
});

// Panel C boxes around the metabolite groups, with the group names to the right
const groupBoxes = {
    id: 'groupBoxes',
    afterDraw(chart) {
        const c = chart.ctx, y = chart.scales.y, area = chart.chartArea;
        const step = (area.bottom - area.top) / metabolitesC.length;
        let first = 0;
        c.save();
        c.strokeStyle = '#333';
        c.lineWidth = 1.2;
        c.font = '11px "Liberation Sans"';
        c.textBaseline = 'middle';
        c.fillStyle = '#222';
        groupSizes.forEach((size, g) => {
            const top = y.getPixelForValue(first) - step / 2;
            const bottom = y.getPixelForValue(first + size - 1) + step / 2;
            c.strokeRect(9, top - (g === 0 ? 2.6 : 0), 442, bottom - top + (g === 0 ? 2.6 : 0));
            c.fillText(groupNames[g], 454.5, y.getPixelForValue(groupNameRows[g]));
            first += size;
        });
        c.restore();
    }
};
new Chart(document.getElementById('heatC'), {
    type: 'bar',
    plugins: [columnNames, groupBoxes],
    data: {
        labels: metabolitesC,
        datasets: cellDatasets(columnsC, valuesC, rowStops, { borderWidth: 0 })
    },
    options: {
        indexAxis: 'y',
        layout: { padding: { left: 13, top: 29, bottom: 1 } },
        scales: {
            x: { type: 'linear', min: 0, max: 9, display: false },
            y: {
                position: 'right',
                afterFit: fixWidth(481),
                grid: { display: false, drawTicks: false },
                border: { display: false },
                ticks: { autoSkip: false, padding: 6, font: { size: 11 } }
            }
        },
        plugins: {
            columnNames: {
                names: columnsC,
                colors: columnsC.map(n => (n[0] === 'R' ? '#ed1c24' : '#39b54a')),
                edge: 'top',
                offset: -7,
                angle: -Math.PI / 2,
                align: 'left',
                font: '11.5px "Liberation Sans"'
            }
        }
    }
});
</script>
</body>
</html>
